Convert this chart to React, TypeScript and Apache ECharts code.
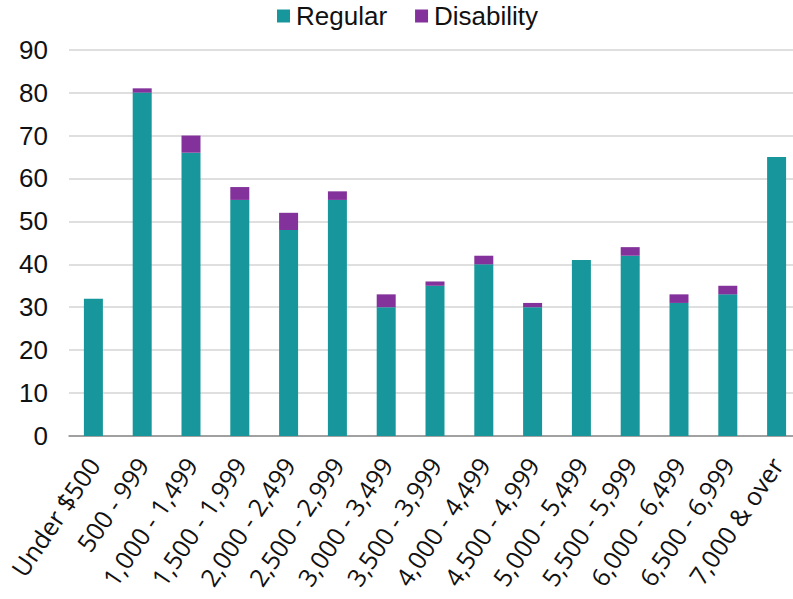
import React, { useEffect, useRef } from "react";
import * as echarts from "echarts";

// Income brackets shown along the x axis
const categories: string[] = [
  "Under $500",
  "500 - 999",
  "1,000 - 1,499",
  "1,500 - 1,999",
  "2,000 - 2,499",
  "2,500 - 2,999",
  "3,000 - 3,499",
  "3,500 - 3,999",
  "4,000 - 4,499",
  "4,500 - 4,999",
  "5,000 - 5,499",
  "5,500 - 5,999",
  "6,000 - 6,499",
  "6,500 - 6,999",
  "7,000 & over",
];

// Stacked counts per bracket
const regular: number[] = [32, 80, 66, 55, 48, 55, 30, 35, 40, 30, 41, 42, 31, 33, 65];
const disability: number[] = [0, 1, 4, 3, 4, 2, 3, 1, 2, 1, 0, 2, 2, 2, 0];

const yTicks = { min: 0, max: 90, interval: 10 };

const TEAL = "#17979B";
const PURPLE = "#84329B";

export default function App() {
  const ref = useRef<HTMLDivElement>(null);

  useEffect(() => {
    if (!ref.current) return;
    const chart = echarts.init(ref.current, undefined, { renderer: "svg" });
    chart.setOption({
      animation: false,
      backgroundColor: "#ffffff",
      textStyle: { fontFamily: "Liberation Sans, Arial, sans-serif" },
      legend: {
        left: 277,
        top: 3,
        padding: 0,
        itemWidth: 13,
        itemHeight: 13,
        itemGap: 28,
        icon: "rect",
        textStyle: { fontSize: 26, color: "#111", padding: [0, 0, 0, 1] },
        data: ["Regular", "Disability"],
      },
      grid: {
        left: 69,
        right: -8,
        top: 49.7,
        bottom: 163,
        containLabel: false,
        outerBoundsMode: "none",
      },
      xAxis: {
        type: "category",
        data: categories,
        axisTick: { show: false },
        axisLine: { lineStyle: { color: "#8c8c8c", width: 1.5 } },
        axisLabel: {
          interval: 0,
          rotate: 56,
          margin: 24,
          fontSize: 25,
          color: "#111",
          fontFamily: "Open Sans, sans-serif",
        },
      },
      yAxis: {
        type: "value",
        min: yTicks.min,
        max: yTicks.max,
        interval: yTicks.interval,
        axisLine: { show: false },
        axisTick: { show: false },
        splitLine: { lineStyle: { color: "#d4d4d4", width: 1.5 } },
        axisLabel: { fontSize: 26, color: "#111", margin: 21 },
      },
      series: [
        {
          name: "Regular",
          type: "bar",
          stack: "total",
          barWidth: 19,
          itemStyle: { color: TEAL },
          data: regular,
        },
        {
          name: "Disability",
          type: "bar",
          stack: "total",
          barWidth: 19,
          itemStyle: { color: PURPLE },
          data: disability,
        },
      ],
    });
    return () => chart.dispose();
  }, []);

  return (
    <div
      ref={ref}
      style={{ position: "absolute", left: 0, top: 0, width: 793, height: 599 }}
    />
  );
}
